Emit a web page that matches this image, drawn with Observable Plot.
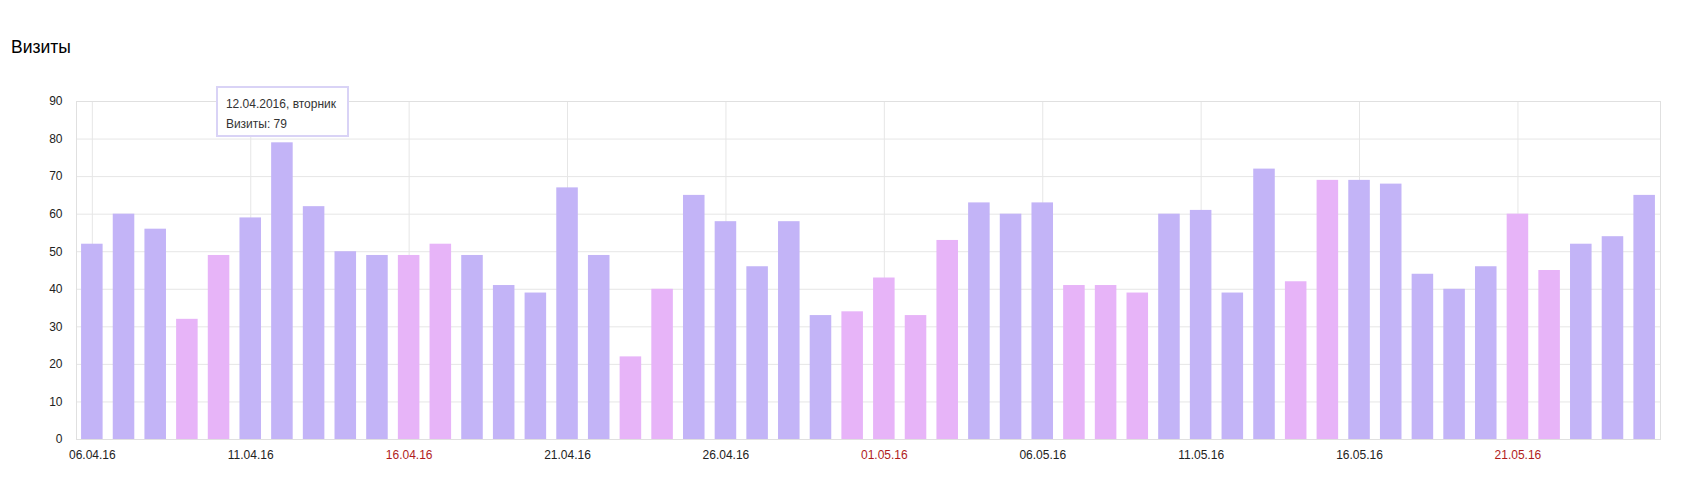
<!DOCTYPE html>
<html>
<head>
<meta charset="utf-8">
<script src="https://cdn.jsdelivr.net/npm/d3@7"></script>
<script src="https://cdn.jsdelivr.net/npm/@observablehq/plot@0.6"></script>
<style>
  html, body { margin: 0; padding: 0; background: #fff; width: 1689px; height: 497px; overflow: hidden; }
  body { font-family: "Liberation Sans", Arial, sans-serif; position: relative; }
  #title { position: absolute; left: 11px; top: 37px; font-size: 17.5px; color: #000; line-height: 20px; }
  #chart { position: absolute; left: 0; top: 60px; }
  #tip { position: absolute; background: #fff; border: 2px solid #d9d3f6; box-sizing: border-box;
         width: 133px; height: 51px; font-size: 12px; color: #333; padding: 6px 0 0 8px; line-height: 20px; }
</style>
</head>
<body>
<div id="title">Визиты</div>
<div id="chart"></div>
<script>
const dates = [
  "06.04.16","07.04.16","08.04.16","09.04.16","10.04.16","11.04.16","12.04.16","13.04.16","14.04.16","15.04.16",
  "16.04.16","17.04.16","18.04.16","19.04.16","20.04.16","21.04.16","22.04.16","23.04.16","24.04.16","25.04.16",
  "26.04.16","27.04.16","28.04.16","29.04.16","30.04.16","01.05.16","02.05.16","03.05.16","04.05.16","05.05.16",
  "06.05.16","07.05.16","08.05.16","09.05.16","10.05.16","11.05.16","12.05.16","13.05.16","14.05.16","15.05.16",
  "16.05.16","17.05.16","18.05.16","19.05.16","20.05.16","21.05.16","22.05.16","23.05.16","24.05.16","25.05.16"
];
const visits = [
  52,60,56,32,49,59,79,62,50,49,
  49,52,49,41,39,67,49,22,40,65,
  58,46,58,33,34,43,33,53,63,60,
  63,41,41,39,60,61,39,72,42,69,
  69,68,44,40,46,60,45,52,54,65
];
// 1 = weekend / holiday
const holiday = [
  0,0,0,1,1,0,0,0,0,0,
  1,1,0,0,0,0,0,1,1,0,
  0,0,0,0,1,1,1,1,0,0,
  0,1,1,1,0,0,0,0,1,1,
  0,0,0,0,0,1,1,0,0,0
];
const tickLabels = ["06.04.16","11.04.16","16.04.16","21.04.16","26.04.16","01.05.16","06.05.16","11.05.16","16.05.16","21.05.16"];
const redTicks = ["16.04.16","01.05.16","21.05.16"];
const yTicks = [0,10,20,30,40,50,60,70,80,90];
const tipDate = "12.04.16";
const tipLines = ["12.04.2016, вторник", "Визиты: 79"];

const workColor = "#c3b4f7";
const holidayColor = "#e7b4f8";
const gridColor = "#e6e6e6";

const data = dates.map((d, i) => ({date: d, value: visits[i], holiday: holiday[i] === 1}));

const plot = Plot.plot({
  width: 1689,
  height: 419,
  marginLeft: 76,
  marginRight: 29,
  marginTop: 41,
  marginBottom: 40,
  style: {fontFamily: '"Liberation Sans", Arial, sans-serif', fontSize: "12px", background: "#fff"},
  x: {type: "band", domain: dates, paddingInner: 0.32, paddingOuter: 0.16, axis: null, label: null},
  y: {domain: [0, 90], axis: null, label: null},
  marks: [
    Plot.gridY(yTicks, {stroke: gridColor, strokeOpacity: 1}),
    Plot.gridX(tickLabels, {stroke: gridColor, strokeOpacity: 1}),
    Plot.barY(data.filter(d => !d.holiday), {x: "date", y: "value", fill: workColor}),
    Plot.barY(data.filter(d => d.holiday), {x: "date", y: "value", fill: holidayColor}),
    Plot.frame({stroke: "#e0e0e0"}),
    Plot.axisY(yTicks, {tickSize: 0, tickPadding: 14, fill: "#222", fontSize: 12, label: null}),
    Plot.axisX(tickLabels.filter(t => !redTicks.includes(t)), {tickSize: 0, tickPadding: 11, fill: "#222", fontSize: 12, label: null}),
    Plot.axisX(redTicks, {tickSize: 0, tickPadding: 11, fill: "#b01c1c", fontSize: 12, label: null})
  ]
});
document.getElementById("chart").appendChild(plot);

// Tooltip positioned via the plot's own x scale
const xs = plot.scale("x");
const cx = xs.apply(tipDate) + xs.bandwidth / 2;
const tip = document.createElement("div");
tip.id = "tip";
tip.innerHTML = tipLines.map(t => `<div>${t}</div>`).join("");
tip.style.left = (cx - 66) + "px";
tip.style.top = "86px";
document.body.appendChild(tip);
</script>
</body>
</html>
